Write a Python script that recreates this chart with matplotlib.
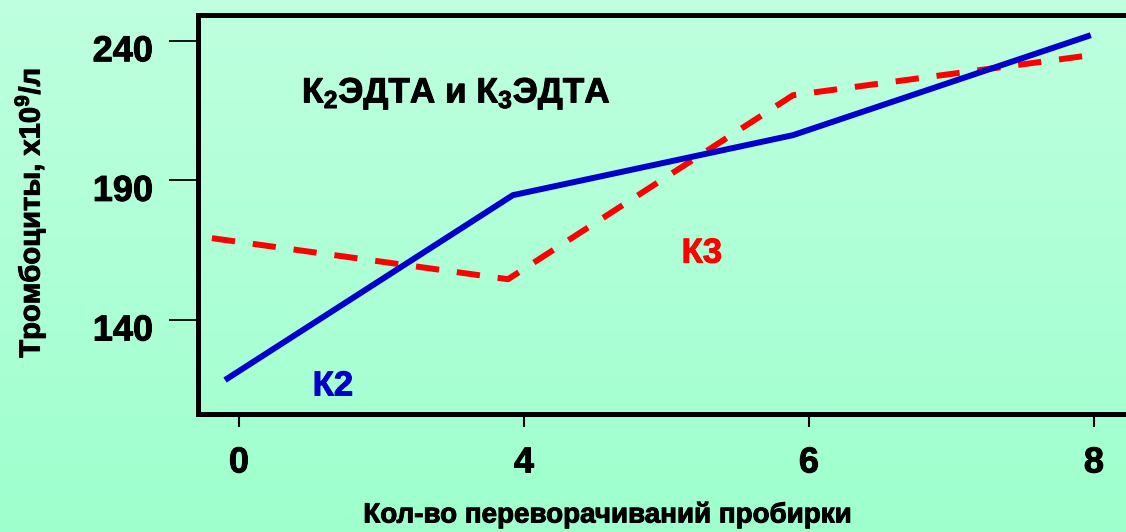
import numpy as np
import matplotlib
matplotlib.use("Agg")
import matplotlib.pyplot as plt
import matplotlib.transforms as mtransforms
import matplotlib.patheffects as pe

# Data: platelet counts vs number of tube inversions
tick_labels = ["0", "4", "6", "8"]
tick_pos = [0, 1, 2, 3]

k2_x = [-0.049, 0.961, 1.944, 2.989]
k2_y = [118.5, 184.7, 206.2, 242.0]

k3_x = [-0.095, 0.944, 1.944, 2.993]
k3_y = [169.3, 154.6, 220.5, 234.9]

y_ticks = [140, 190, 240]

plt.rcParams["font.family"] = ["Liberation Sans", "DejaVu Sans"]
plt.rcParams["font.weight"] = "bold"
plt.rcParams["mathtext.fontset"] = "custom"
plt.rcParams["mathtext.rm"] = "Liberation Sans:bold"
plt.rcParams["mathtext.it"] = "Liberation Sans:bold"
plt.rcParams["mathtext.bf"] = "Liberation Sans:bold"

W, H = 1126, 532
fig = plt.figure(figsize=(W / 100, H / 100), dpi=100)


def fx(px):
    return px / W


def fy(py):
    return 1 - py / H


heavy = [pe.withStroke(linewidth=0.7, foreground="black")]

# soft mint vertical gradient behind everything
bg = fig.add_axes([0, 0, 1, 1], zorder=-10)
grad = np.linspace(0, 1, 256).reshape(-1, 1)
top = np.array([190, 255, 223]) / 255
bot = np.array([158, 255, 205]) / 255
img = top[None, None, :] * (1 - grad[:, :, None]) + bot[None, None, :] * grad[:, :, None]
bg.imshow(img, aspect="auto", extent=[0, 1, 0, 1])
bg.set_axis_off()

ax = fig.add_axes([0.1754, 0.2227, 0.828, 0.75])
ax.patch.set_alpha(0)

ax.plot(k2_x, k2_y, color="#0000CC", lw=4.3, solid_capstyle="butt", zorder=3)
ax.plot(k3_x, k3_y, color="#FF0000", lw=4.3, dashes=(3.9, 3.0),
        dash_capstyle="butt", zorder=2)

ax.set_xlim(-0.1456, 3.126)
ax.set_ylim(106.5, 249.4)

ax.set_xticks(tick_pos)
ax.set_xticklabels(tick_labels)
ax.set_yticks(y_ticks)

for s in ("left", "bottom", "top"):
    ax.spines[s].set_linewidth(3.6)
    ax.spines[s].set_color("black")
ax.spines["right"].set_visible(False)

ax.tick_params(axis="y", direction="out", length=21, width=1.3, pad=11,
               labelsize=26, color="black")
ax.tick_params(axis="x", direction="out", length=9, width=1.5, pad=14,
               labelsize=26, color="black")

shift_down = mtransforms.ScaledTranslation(0, -0.07, fig.dpi_scale_trans)
for lab in ax.get_yticklabels():
    lab.set_transform(lab.get_transform() + shift_down)
for lab in ax.get_xticklabels() + ax.get_yticklabels():
    lab.set_fontweight("bold")
    lab.set_path_effects(heavy)

fig.text(fx(607), fy(515), "Кол-во переворачиваний пробирки", fontsize=20,
         fontweight="bold", ha="center", va="center", path_effects=heavy)
fig.text(fx(30), fy(213), "Тромбоциты, х10$^{9}$/л", fontsize=21,
         fontweight="bold", ha="center", va="center", rotation=90,
         path_effects=heavy)

fig.text(fx(302), fy(94), "К$_{2}$ЭДТА и К$_{3}$ЭДТА", fontsize=25.3,
         fontweight="bold", va="center", ha="left", path_effects=heavy)
ax.text(0.1453, 0.069, "К2", transform=ax.transAxes, fontsize=25, fontweight="bold",
        color="#0000CC", ha="center", va="center",
        path_effects=[pe.withStroke(linewidth=0.7, foreground="#0000CC")])
ax.text(0.541, 0.402, "К3", transform=ax.transAxes, fontsize=25, fontweight="bold",
        color="#FF0000", ha="center", va="center",
        path_effects=[pe.withStroke(linewidth=0.7, foreground="#FF0000")])

fig.savefig("out.png", dpi=100)
